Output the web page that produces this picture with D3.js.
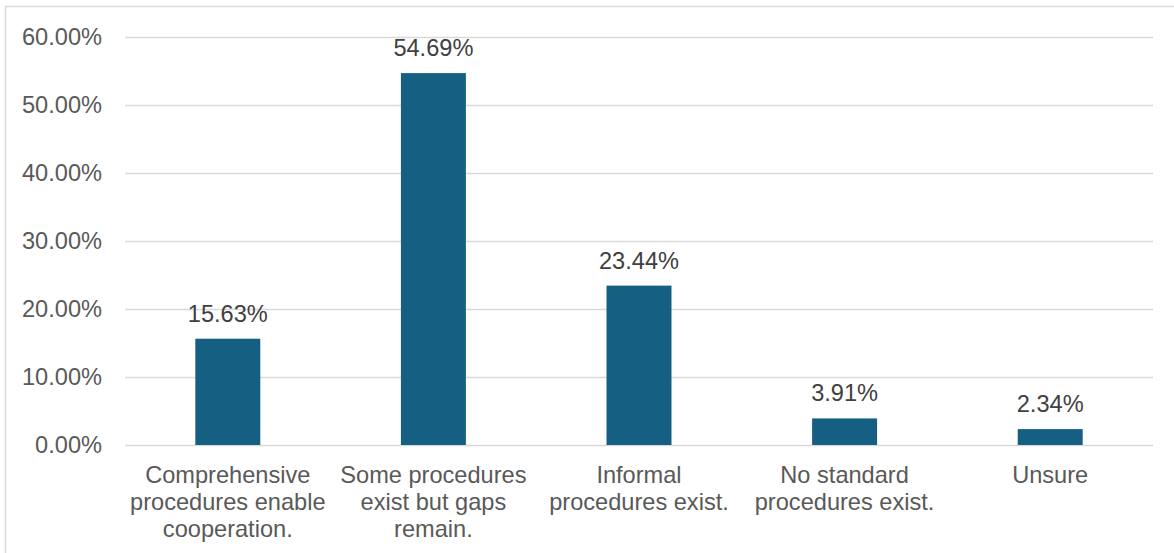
<!DOCTYPE html>
<html><head><meta charset="utf-8">
<script src="https://cdn.jsdelivr.net/npm/d3@7"></script>
<style>html,body{margin:0;padding:0;background:#fff;}svg{display:block;}</style>
</head><body>
<script>
const categories = [
  ["Comprehensive", "procedures enable", "cooperation."],
  ["Some procedures", "exist but gaps", "remain."],
  ["Informal", "procedures exist."],
  ["No standard", "procedures exist."],
  ["Unsure"]
];
const values = [15.63, 54.69, 23.44, 3.91, 2.34];
const yTicks = [0, 10, 20, 30, 40, 50, 60];

const W = 1174, H = 553;
const margin = {left: 125, right: 21, top: 37, bottom: 108};
const font = "'Liberation Sans', Arial, sans-serif";
const fs = 23.6;

const svg = d3.select("body").append("svg").attr("width", W).attr("height", H);
svg.append("rect").attr("width", W).attr("height", H).attr("fill", "#fff");
svg.append("rect").attr("x", 5.5).attr("y", 6.5).attr("width", W + 20).attr("height", H + 20)
  .attr("fill", "none").attr("stroke", "#d9d9d9").attr("stroke-width", 1.5);

const x = d3.scaleBand().domain(d3.range(values.length)).range([margin.left, W - margin.right]).paddingInner(0.684).paddingOuter(0.342);
const y = d3.scaleLinear().domain([0, 60]).range([H - margin.bottom, margin.top]);

const g = svg.append("g");
g.selectAll("line.grid").data(yTicks).join("line")
  .attr("x1", margin.left).attr("x2", W - margin.right)
  .attr("y1", d => Math.round(y(d)) + 0.5).attr("y2", d => Math.round(y(d)) + 0.5)
  .attr("stroke", "#d9d9d9").attr("stroke-width", 1.5);

const yAxis = d3.axisLeft(y).tickValues(yTicks).tickFormat(d => d.toFixed(2) + "%").tickSize(0).tickPadding(23);
const ya = svg.append("g").attr("transform", `translate(${margin.left},0)`).call(yAxis);
ya.select(".domain").remove();
ya.selectAll("text").attr("font-family", font).attr("font-size", fs).attr("fill", "#595959");

g.selectAll("rect.bar").data(values).join("rect")
  .attr("x", (d, i) => x(i)).attr("width", x.bandwidth())
  .attr("y", d => y(d)).attr("height", d => y(0) - y(d))
  .attr("fill", "#156082");

g.selectAll("text.dl").data(values).join("text")
  .attr("x", (d, i) => x(i) + x.bandwidth() / 2).attr("y", d => y(d) - 17)
  .attr("text-anchor", "middle").attr("font-family", font).attr("font-size", fs).attr("fill", "#404040")
  .text(d => d.toFixed(2) + "%");

const xa = svg.append("g");
categories.forEach((lines, i) => {
  const t = xa.append("text").attr("text-anchor", "middle").attr("font-family", font)
    .attr("font-size", fs).attr("fill", "#595959");
  lines.forEach((ln, j) => {
    t.append("tspan").attr("x", x(i) + x.bandwidth() / 2).attr("y", y(0) + 38 + j * 27).text(ln);
  });
});
</script>
</body></html>
